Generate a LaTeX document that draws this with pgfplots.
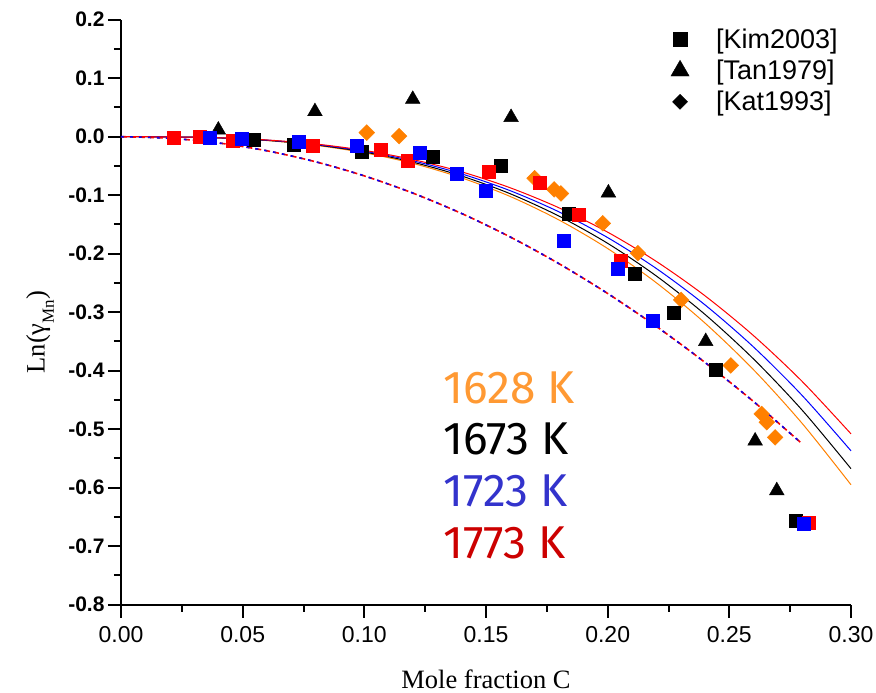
\documentclass[border=0pt]{standalone}
\usepackage{fontspec}
\setmainfont{Liberation Sans}
\newfontfamily\seriffont{Liberation Serif}
\newfontfamily\comicfont{Fira Sans}
\usepackage{graphicx}
\usepackage{pgfplots}
\pgfplotsset{compat=1.18}
\definecolor{myorange}{RGB}{255,128,0}
\definecolor{txtorange}{RGB}{255,153,51}
\definecolor{txtblue}{RGB}{51,51,204}
\definecolor{txtred}{RGB}{204,0,0}
\definecolor{mymaroon}{RGB}{128,20,70}
\begin{document}
\begin{tikzpicture}
\begin{axis}[
  scale only axis, width=730pt, height=585pt,
  xmin=0, xmax=0.3, ymin=-0.8, ymax=0.2,
  axis x line*=bottom, axis y line*=left,
  axis line style={line width=2pt},
  tick align=outside,
  major tick length=13pt, minor tick length=7pt,
  every tick/.style={black, line width=2pt},
  xtick={0,0.05,0.1,0.15,0.2,0.25,0.3}, minor x tick num=1,
  ytick={-0.8,-0.7,-0.6,-0.5,-0.4,-0.3,-0.2,-0.1,0,0.1,0.2}, minor y tick num=1,
  /pgf/number format/assume math mode=true,
  xticklabel style={font=\fontsize{23}{23}\selectfont, yshift=-5pt, /pgf/number format/.cd, fixed, fixed zerofill, precision=2},
  yticklabel style={font=\bfseries\fontsize{21}{21}\selectfont, /pgf/number format/.cd, fixed, fixed zerofill, precision=1},
  xlabel={\seriffont\fontsize{26.5}{26.5}\selectfont Mole fraction C},
  ylabel={\seriffont\fontsize{26.5}{26.5}\selectfont Ln(γ\raisebox{-0.35em}{\fontsize{17}{17}\selectfont Mn})},
  every axis x label/.style={at={(axis description cs:0.5,-0.128)}, anchor=center},
  every axis y label/.style={at={(axis description cs:-0.111,0.466)}, anchor=center, rotate=90},
  clip=false,
  legend image code/.code={\path[draw=none,fill=none] (-8pt,0pt) (34pt,0pt); \draw[#1] plot coordinates {(0pt,0pt)};},
  legend style={at={(axis description cs:0.749,0.991)}, anchor=north west, draw=none, fill=none,
    font=\fontsize{27}{29}\selectfont, row sep=6pt},
  legend cell align=left,
]
\addlegendimage{only marks, mark=square*, black, mark size=7pt}
\addlegendentry{[Kim2003]}
\addlegendimage{only marks, mark=triangle*, black, mark size=10.5pt}
\addlegendentry{[Tan1979]}
\addlegendimage{only marks, mark=square*, black, mark size=5.3pt, mark options={rotate=45}}
\addlegendentry{[Kat1993]}

% triangles [Tan1979]
\addplot[only marks, mark=triangle*, black, mark size=8.5pt, forget plot] coordinates {
(0.040,0.0115) (0.0797,0.043) (0.1199,0.064) (0.1603,0.033) (0.2003,-0.096)
(0.2403,-0.350) (0.2606,-0.520) (0.2695,-0.605)};
% orange diamonds [Kat1993]
\addplot[only marks, mark=square*, myorange, mark size=5.6pt, mark options={rotate=45}, forget plot] coordinates {
(0.101,0.007) (0.1143,0.001) (0.170,-0.071) (0.178,-0.090) (0.1808,-0.097) (0.198,-0.148)
(0.2124,-0.199) (0.2302,-0.279) (0.2506,-0.391) (0.2633,-0.474) (0.2654,-0.488) (0.2688,-0.514)};
% black squares 1673 K
\addplot[only marks, mark=square*, black, mark size=6.5pt, forget plot] coordinates {
(0.0547,-0.0045) (0.0708,-0.013) (0.0989,-0.026) (0.128,-0.034) (0.156,-0.050) (0.184,-0.132)
(0.2113,-0.2335) (0.2273,-0.301) (0.2444,-0.399) (0.2774,-0.656)};
% red squares 1773 K
\addplot[only marks, mark=square*, red, mark size=6.5pt, forget plot] coordinates {
(0.0218,-0.001) (0.0325,0) (0.0459,-0.007) (0.0788,-0.015) (0.1069,-0.022) (0.118,-0.041)
(0.151,-0.060) (0.172,-0.078) (0.188,-0.133) (0.2054,-0.212) (0.2825,-0.660)};
% blue squares 1723 K
\addplot[only marks, mark=square*, blue, mark size=6.5pt, forget plot] coordinates {
(0.0366,-0.001) (0.0496,-0.004) (0.0729,-0.0085) (0.0969,-0.015) (0.1229,-0.028) (0.138,-0.063)
(0.150,-0.092) (0.182,-0.178) (0.204,-0.226) (0.2184,-0.3145) (0.2804,-0.661)};

% model lines (solid)
\addplot[myorange, line width=1pt, smooth, no marks, forget plot] coordinates {
(0,0) (0.02,-0.0003) (0.04,-0.0021) (0.06,-0.0066) (0.08,-0.0147) (0.10,-0.0275) (0.12,-0.0457)
(0.14,-0.0704) (0.16,-0.1023) (0.18,-0.1424) (0.20,-0.1912) (0.22,-0.2497) (0.24,-0.3186)
(0.26,-0.3986) (0.28,-0.4905) (0.30,-0.595)};
\addplot[black, line width=1pt, smooth, no marks, forget plot] coordinates {
(0,0) (0.02,-0.0003) (0.04,-0.0020) (0.06,-0.0063) (0.08,-0.0140) (0.10,-0.0262) (0.12,-0.0436)
(0.14,-0.0672) (0.16,-0.0976) (0.18,-0.1358) (0.20,-0.1823) (0.22,-0.2381) (0.24,-0.3038)
(0.26,-0.3802) (0.28,-0.4678) (0.30,-0.5675)};
\addplot[blue, line width=1pt, smooth, no marks, forget plot] coordinates {
(0,0) (0.02,-0.0003) (0.04,-0.0019) (0.06,-0.0059) (0.08,-0.0133) (0.10,-0.0248) (0.12,-0.0413)
(0.14,-0.0636) (0.16,-0.0924) (0.18,-0.1285) (0.20,-0.1725) (0.22,-0.2253) (0.24,-0.2875)
(0.26,-0.3597) (0.28,-0.4427) (0.30,-0.537)};
\addplot[red, line width=1pt, smooth, no marks, forget plot] coordinates {
(0,0) (0.02,-0.0003) (0.04,-0.0018) (0.06,-0.0056) (0.08,-0.0125) (0.10,-0.0234) (0.12,-0.0391)
(0.14,-0.0601) (0.16,-0.0874) (0.18,-0.1216) (0.20,-0.1632) (0.22,-0.2132) (0.24,-0.2720)
(0.26,-0.3403) (0.28,-0.4187) (0.30,-0.508)};

% dashed lines
\pgfplotstableread{
x y
0 0
0.02 -0.0027
0.04 -0.0107
0.06 -0.0241
0.08 -0.0429
0.10 -0.067
0.12 -0.0965
0.14 -0.1313
0.16 -0.1715
0.18 -0.2171
0.20 -0.268
0.22 -0.3243
0.24 -0.3859
0.26 -0.4529
0.28 -0.5253
}\dashtab
\addplot[red, line width=1.6pt, smooth, no marks, dash pattern=on 6pt off 3pt, forget plot] table {\dashtab};
\addplot[blue, line width=1.6pt, smooth, no marks, dash pattern=on 3pt off 6pt, forget plot] table {\dashtab};
\addplot[mymaroon, line width=0.8pt, smooth, no marks, dash pattern=on 1.5pt off 7.5pt, dash phase=-2pt, forget plot] table {\dashtab};

\node[anchor=west, text=txtorange, font=\comicfont\fontsize{46}{46}\selectfont] at (axis cs:0.131,-0.429) {1628 K};
\node[anchor=west, text=black, font=\comicfont\fontsize{46}{46}\selectfont] at (axis cs:0.131,-0.517) {1673 K};
\node[anchor=west, text=txtblue, font=\comicfont\fontsize{46}{46}\selectfont] at (axis cs:0.131,-0.606) {1723 K};
\node[anchor=west, text=txtred, font=\comicfont\fontsize{46}{46}\selectfont] at (axis cs:0.131,-0.694) {1773 K};
\end{axis}
\pgfresetboundingbox
\path[use as bounding box] ([shift={(-121pt,-88.3pt)}]current axis.south west) rectangle ([shift={(25pt,19.7pt)}]current axis.north east);
\end{tikzpicture}
\end{document}
